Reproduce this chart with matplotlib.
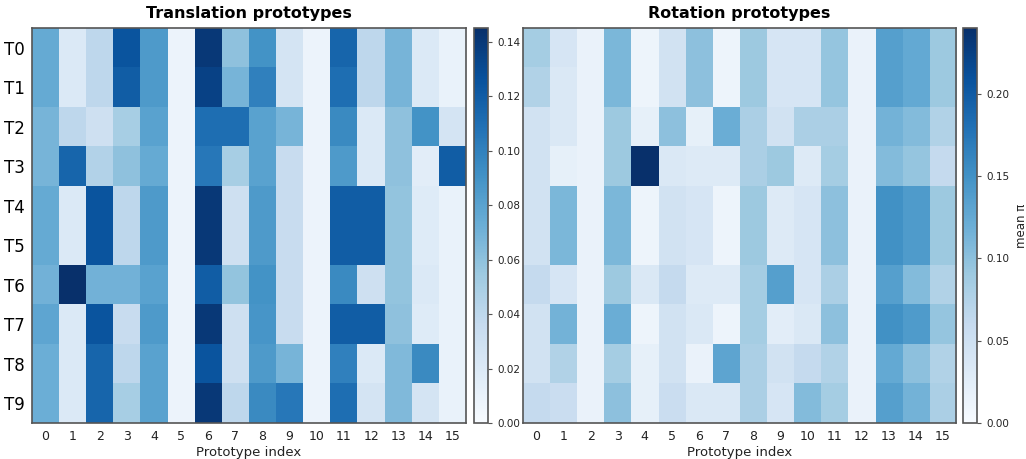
import numpy as np
import matplotlib.pyplot as plt

# Mean pi per task (rows) and prototype (columns)
tasks = ['T0', 'T1', 'T2', 'T3', 'T4', 'T5', 'T6', 'T7', 'T8', 'T9']
protos = list(range(16))

trans = [
    [0.075, 0.020, 0.040, 0.125, 0.085, 0.008, 0.140, 0.060, 0.090, 0.025, 0.008, 0.115, 0.040, 0.068, 0.020, 0.010],
    [0.075, 0.020, 0.040, 0.120, 0.085, 0.008, 0.135, 0.068, 0.100, 0.025, 0.008, 0.110, 0.040, 0.068, 0.020, 0.010],
    [0.068, 0.040, 0.030, 0.050, 0.080, 0.008, 0.110, 0.110, 0.080, 0.068, 0.008, 0.095, 0.020, 0.060, 0.090, 0.025],
    [0.068, 0.115, 0.045, 0.060, 0.075, 0.008, 0.105, 0.050, 0.080, 0.035, 0.008, 0.085, 0.020, 0.060, 0.015, 0.120],
    [0.075, 0.020, 0.125, 0.040, 0.085, 0.008, 0.140, 0.030, 0.085, 0.035, 0.008, 0.120, 0.120, 0.058, 0.018, 0.010],
    [0.075, 0.020, 0.125, 0.040, 0.085, 0.008, 0.140, 0.030, 0.085, 0.035, 0.008, 0.120, 0.120, 0.058, 0.018, 0.010],
    [0.070, 0.145, 0.070, 0.070, 0.080, 0.008, 0.120, 0.058, 0.090, 0.035, 0.008, 0.095, 0.030, 0.058, 0.020, 0.010],
    [0.078, 0.020, 0.125, 0.035, 0.085, 0.008, 0.140, 0.030, 0.088, 0.035, 0.008, 0.120, 0.120, 0.060, 0.018, 0.010],
    [0.072, 0.020, 0.115, 0.040, 0.080, 0.008, 0.125, 0.030, 0.085, 0.068, 0.008, 0.100, 0.020, 0.065, 0.095, 0.010],
    [0.072, 0.020, 0.115, 0.050, 0.080, 0.008, 0.140, 0.040, 0.095, 0.105, 0.008, 0.110, 0.025, 0.065, 0.025, 0.010],
]

rot = [
    [0.085, 0.040, 0.015, 0.110, 0.012, 0.045, 0.100, 0.012, 0.090, 0.040, 0.040, 0.095, 0.015, 0.135, 0.125, 0.090],
    [0.075, 0.035, 0.015, 0.110, 0.012, 0.045, 0.100, 0.012, 0.090, 0.040, 0.040, 0.095, 0.015, 0.135, 0.125, 0.090],
    [0.045, 0.035, 0.015, 0.090, 0.020, 0.100, 0.020, 0.120, 0.080, 0.045, 0.080, 0.080, 0.015, 0.115, 0.105, 0.075],
    [0.045, 0.020, 0.015, 0.090, 0.240, 0.035, 0.030, 0.030, 0.080, 0.090, 0.030, 0.085, 0.015, 0.105, 0.095, 0.060],
    [0.045, 0.110, 0.015, 0.110, 0.012, 0.045, 0.040, 0.012, 0.090, 0.030, 0.040, 0.100, 0.015, 0.150, 0.140, 0.090],
    [0.045, 0.110, 0.015, 0.110, 0.012, 0.045, 0.040, 0.012, 0.090, 0.030, 0.040, 0.100, 0.015, 0.150, 0.140, 0.090],
    [0.060, 0.040, 0.015, 0.090, 0.035, 0.060, 0.030, 0.030, 0.085, 0.135, 0.040, 0.080, 0.015, 0.135, 0.105, 0.075],
    [0.045, 0.115, 0.015, 0.120, 0.012, 0.045, 0.035, 0.012, 0.085, 0.025, 0.035, 0.100, 0.015, 0.150, 0.140, 0.095],
    [0.045, 0.075, 0.015, 0.085, 0.020, 0.045, 0.015, 0.130, 0.080, 0.045, 0.060, 0.075, 0.015, 0.125, 0.100, 0.075],
    [0.060, 0.055, 0.015, 0.100, 0.020, 0.055, 0.035, 0.035, 0.080, 0.040, 0.105, 0.085, 0.015, 0.135, 0.115, 0.080],
]

W, H = 1026, 459
fig = plt.figure(figsize=(W / 100, H / 100), dpi=100)


def px(x0, y0, x1, y1):
    # pixel box -> figure fraction [left, bottom, width, height]
    return [x0 / W, 1 - y1 / H, (x1 - x0) / W, (y1 - y0) / H]


ax1 = fig.add_axes(px(32, 28, 466, 423))
cax1 = fig.add_axes(px(474, 28, 488, 423))
ax2 = fig.add_axes(px(523, 28, 956, 423))
cax2 = fig.add_axes(px(963, 28, 977, 423))

edge = '#555555'
panels = [(ax1, cax1, trans, 'Translation prototypes'), (ax2, cax2, rot, 'Rotation prototypes')]
for ax, cax, data, title in panels:
    arr = np.array(data)
    im = ax.imshow(arr, cmap='Blues', aspect='auto', vmin=0, vmax=arr.max(),
                   interpolation='nearest')
    ax.set_title(title, fontsize=11.5, fontweight='bold', pad=7)
    ax.set_xticks(range(len(protos)))
    ax.set_xticklabels(protos, fontsize=9, color='#222222')
    ax.set_xlabel('Prototype index', fontsize=9.5, color='#222222', labelpad=2)
    ax.tick_params(length=0, pad=5)
    for s in ax.spines.values():
        s.set_color(edge)
        s.set_linewidth(1.2)
    cb = fig.colorbar(im, cax=cax)
    cb.ax.tick_params(labelsize=7.5, length=3, color=edge, labelcolor='#222222')
    cb.outline.set_edgecolor(edge)
    cb.outline.set_linewidth(1.2)

ax1.set_yticks(range(len(tasks)))
ax1.set_yticklabels(tasks, fontsize=12)
ax2.set_yticks([])
cax1.set_yticks([0, 0.02, 0.04, 0.06, 0.08, 0.10, 0.12, 0.14])
cax2.set_yticks([0, 0.05, 0.10, 0.15, 0.20])
cax2.set_ylabel('mean π', fontsize=8.5, color='#222222', labelpad=4)

fig.savefig('out.png', dpi=100)
